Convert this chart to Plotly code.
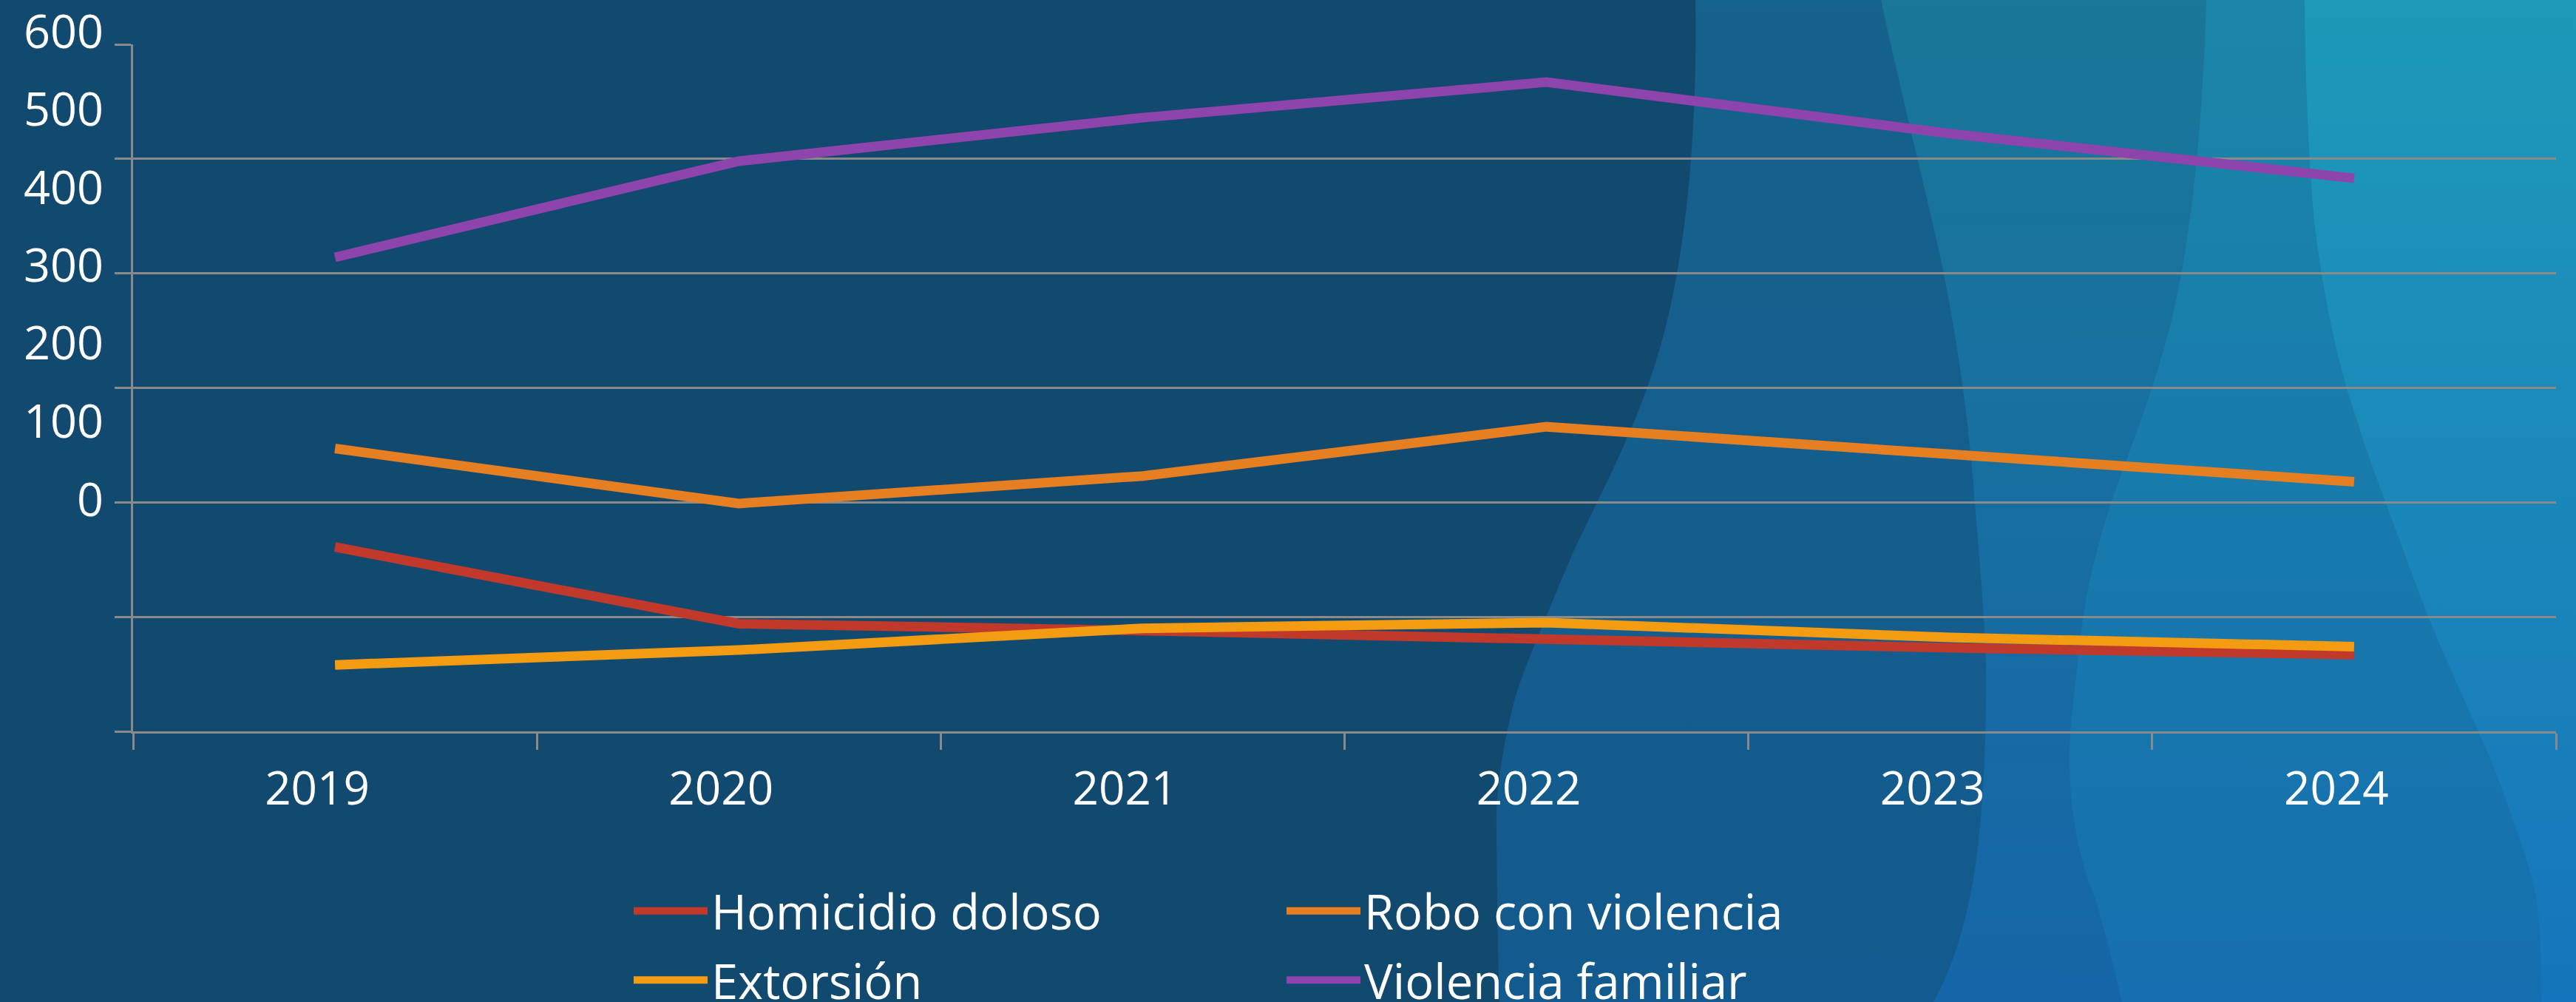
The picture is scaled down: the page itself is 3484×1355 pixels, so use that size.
import base64
import plotly.graph_objects as go

# ---- data ----
years = ["2019", "2020", "2021", "2022", "2023", "2024"]
homicidio = [-39, -106, -112, -120, -127, -133]
robo = [47, -1, 23, 66, 42, 18]
extorsion = [-142, -129, -110, -105, -118, -126]
violencia = [214, 298, 336, 367, 322, 283]
series_names = ["Homicidio doloso", "Robo con violencia", "Extorsión", "Violencia familiar"]
series_colors = ["#C0392B", "#E67E22", "#F39C12", "#8E44AD"]
series_legend = ["legend", "legend2", "legend", "legend2"]
y_labels = ["600", "500", "400", "300", "200", "100", "0"]

# ---- layout geometry ----
W, H = 3484, 1355
L, R, T, B = 180, 27, 60, 366
PW, PH = W - L - R, H - T - B
FONT = "'Open Sans', 'Noto Sans', sans-serif"

# ---- background (svg) ----
svg = f'''<svg xmlns="http://www.w3.org/2000/svg" width="{W}" height="{H}" viewBox="0 0 {W} {H}" preserveAspectRatio="none">
<defs>
<linearGradient id="g1" gradientUnits="userSpaceOnUse" x1="0" y1="0" x2="0" y2="{H}"><stop offset="0" stop-color="#15628C"/><stop offset="1" stop-color="#135A8E"/></linearGradient>
<linearGradient id="g2" gradientUnits="userSpaceOnUse" x1="0" y1="0" x2="0" y2="{H}"><stop offset="0" stop-color="#197799"/><stop offset="1" stop-color="#1566A8"/></linearGradient>
<linearGradient id="g3" gradientUnits="userSpaceOnUse" x1="0" y1="0" x2="0" y2="{H}"><stop offset="0" stop-color="#1A86A8"/><stop offset="1" stop-color="#166FB0"/></linearGradient>
<linearGradient id="g4" gradientUnits="userSpaceOnUse" x1="0" y1="0" x2="0" y2="{H}"><stop offset="0" stop-color="#1E9AB8"/><stop offset="1" stop-color="#1675BC"/></linearGradient>
</defs>
<rect x="0" y="0" width="{W}" height="{H}" fill="#12496E"/>
<path d="M2293,0 C2296,180 2280,330 2255,433 C2220,580 2150,690 2114,779 C2080,860 2055,920 2047,952 C2030,1020 2022,1080 2024,1126 C2025,1220 2026,1300 2028,1355 L{W},{H} L{W},0 Z" fill="url(#g1)"/>
<path d="M2544,0 C2570,120 2600,240 2624,346 C2650,470 2665,590 2672,693 C2680,790 2688,880 2686,952 C2685,1040 2680,1110 2672,1169 C2660,1250 2640,1310 2615,1355 L{W},{H} L{W},0 Z" fill="url(#g2)"/>
<path d="M2984,0 C2980,150 2965,320 2937,433 C2910,540 2875,620 2851,693 C2830,760 2818,820 2814,866 C2805,940 2798,990 2799,1039 C2801,1110 2815,1170 2833,1212 C2850,1270 2862,1320 2870,1355 L{W},{H} L{W},0 Z" fill="url(#g3)"/>
<path d="M3117,0 C3118,130 3124,230 3130,300 C3145,420 3165,500 3185,560 C3210,640 3235,700 3260,770 C3300,880 3340,960 3370,1030 C3400,1110 3425,1180 3430,1212 C3436,1260 3438,1310 3438,1355 L{W},{H} L{W},0 Z" fill="url(#g4)"/>
</svg>'''
bg_src = "data:image/svg+xml;base64," + base64.b64encode(svg.encode()).decode()

fig = go.Figure()
for name, vals, col, lg in zip(series_names, [homicidio, robo, extorsion, violencia],
                               series_colors, series_legend):
    fig.add_trace(go.Scatter(x=years, y=vals, mode="lines", name=name,
                             legend=lg, legendgroup=name,
                             line=dict(color=col, width=13)))

annotations = []
for i, txt in enumerate(y_labels):
    ypx = 40 + i * 105.5
    annotations.append(dict(text=txt, xref="paper", yref="paper",
                            x=(142 - L) / PW, y=(H - B - ypx) / PH,
                            xanchor="right", yanchor="middle", showarrow=False,
                            font=dict(family=FONT, size=63, color="white")))

legend_common = dict(orientation="v", xanchor="left", yanchor="top",
                     y=(H - B - 1183) / PH, itemwidth=100,
                     font=dict(family=FONT, size=65, color="white"),
                     bgcolor="rgba(0,0,0,0)", tracegroupgap=6)

fig.update_layout(
    width=W, height=H,
    margin=dict(l=L, r=R, t=T, b=B, autoexpand=False),
    paper_bgcolor="#12496E",
    plot_bgcolor="rgba(0,0,0,0)",
    font=dict(family=FONT, color="white", size=62),
    images=[dict(source=bg_src, xref="paper", yref="paper",
                 x=-L / PW, y=1 + T / PH, sizex=W / PW, sizey=H / PH,
                 xanchor="left", yanchor="top", sizing="stretch", layer="below")],
    xaxis=dict(type="category", range=[-0.5, 5.5], tickson="boundaries",
               ticks="outside", ticklen=22, tickwidth=3, tickcolor="#8A8A8A",
               showline=True, linecolor="#8A8A8A", linewidth=3,
               showgrid=False, tickfont=dict(size=62, color="white"),
               ticklabelstandoff=22, ticklabelshift=-24),
    yaxis=dict(range=[-200, 400], dtick=100, tick0=0, showgrid=True,
               gridcolor="#8A8A8A", gridwidth=3, zeroline=False,
               ticks="outside", ticklen=22, tickwidth=3, tickcolor="#8A8A8A",
               showline=True, linecolor="#8A8A8A", linewidth=3,
               showticklabels=False),
    legend=dict(x=(852 - L) / PW, **legend_common),
    legend2=dict(x=(1735 - L) / PW, **legend_common),
    annotations=annotations,
    showlegend=True,
)

fig.write_html("out.html", config={"displayModeBar": False},
               post_script="document.body.style.margin='0';document.body.style.overflow='hidden';")
